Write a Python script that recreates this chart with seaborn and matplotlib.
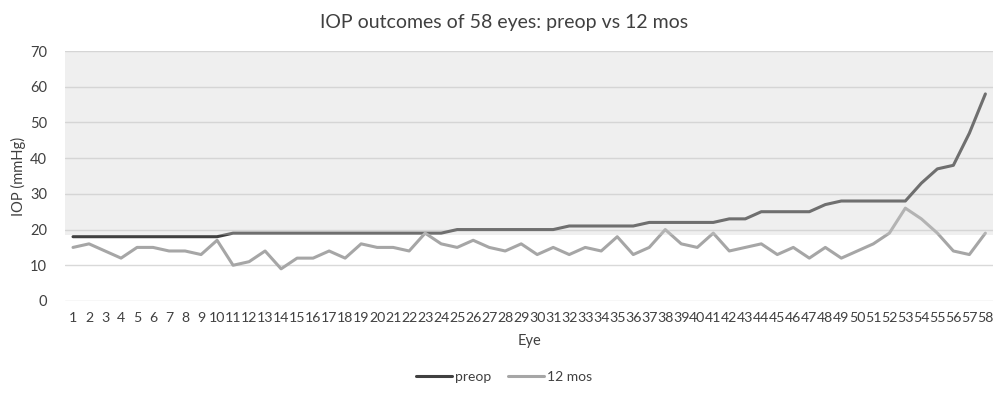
import matplotlib.pyplot as plt
import seaborn as sns
import pandas as pd
import numpy as np

eyes = list(range(1, 59))
preop = [18, 18, 18, 18, 18, 18, 18, 18, 18, 18,
         19, 19, 19, 19, 19, 19, 19, 19, 19, 19,
         19, 19, 19, 19, 20, 20, 20, 20, 20, 20,
         20, 21, 21, 21, 21, 21, 22, 22, 22, 22,
         22, 23, 23, 25, 25, 25, 25, 27, 28, 28,
         28, 28, 28, 33, 37, 38, 47, 58]
mos12 = [15, 16, 14, 12, 15, 15, 14, 14, 13, 17,
         10, 11, 14, 9, 12, 12, 14, 12, 16, 15,
         15, 14, 19, 16, 15, 17, 15, 14, 16, 13,
         15, 13, 15, 14, 18, 13, 15, 20, 16, 15,
         19, 14, 15, 16, 13, 15, 12, 15, 12, 14,
         16, 19, 26, 23, 19, 14, 13, 19]
y_ticks = [0, 10, 20, 30, 40, 50, 60, 70]

df = pd.DataFrame({'Eye': eyes, 'preop': preop, '12 mos': mos12})
long = df.melt(id_vars='Eye', var_name='series', value_name='IOP')

sns.set_style('white')
plt.rcParams['font.family'] = ['Lato', 'DejaVu Sans']

fig = plt.figure(figsize=(10.08, 3.96), dpi=100)
ax = fig.add_axes([0.0645, 0.24, 0.921, 0.631])

sns.lineplot(data=long, x='Eye', y='IOP', hue='series', ax=ax,
             palette={'preop': '#404040', '12 mos': '#a6a6a6'},
             linewidth=2.2, legend=False)

# translucent band drawn over the lines
ax.axhspan(18.6, 70, color='#cfcfcf', alpha=0.33, lw=0, zorder=5)

for t in y_ticks:
    ax.axhline(t, color='#d9d9d9', lw=1, zorder=0)

ax.set_xlim(0.5, 58.5)
ax.set_ylim(0, 70)
ax.set_yticks(y_ticks)
ax.set_xticks(eyes)
ax.set_xticklabels([str(e) for e in eyes], fontsize=10.2, color='#404040')
ax.tick_params(axis='x', length=0, pad=8)
ax.tick_params(axis='y', length=0, pad=13, labelsize=10.5, labelcolor='#404040')
for s in ax.spines.values():
    s.set_visible(False)

ax.set_xlabel('Eye', fontsize=10.5, color='#404040', labelpad=7)
ax.set_ylabel('IOP (mmHg)', fontsize=10.5, color='#404040', labelpad=3)
fig.suptitle('IOP outcomes of 58 eyes: preop vs 12 mos', x=0.5, y=0.965,
             fontsize=14, color='#404040')

handles = [plt.Line2D([], [], color='#404040', lw=2.2),
           plt.Line2D([], [], color='#a6a6a6', lw=2.2)]
fig.legend(handles, ['preop', '12 mos'], loc='center', bbox_to_anchor=(0.5, 0.048),
           ncol=2, frameon=False, fontsize=10, handlelength=2.6,
           handletextpad=0.2, columnspacing=1.2, labelcolor='#404040')

fig.savefig('out.png', dpi=100)
